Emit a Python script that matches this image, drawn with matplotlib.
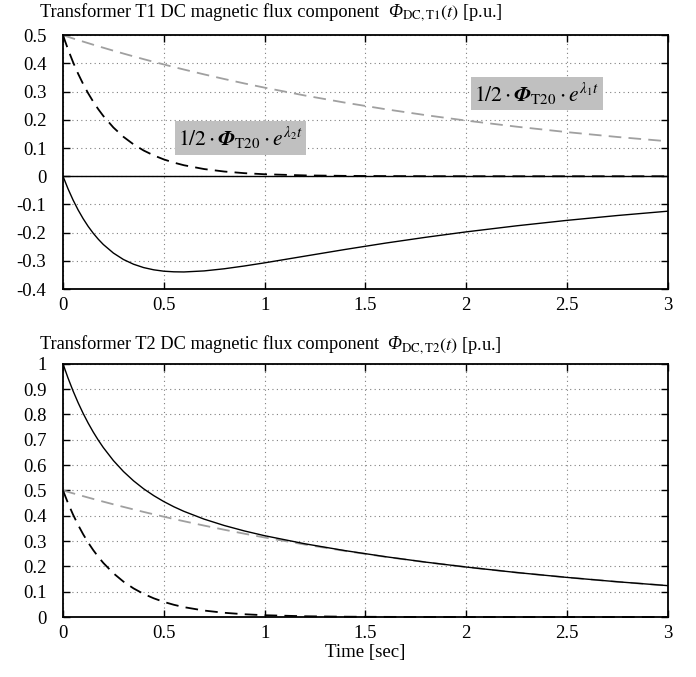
import matplotlib
matplotlib.use('Agg')
import matplotlib.pyplot as plt

plt.rcParams['font.family'] = ['Liberation Serif', 'DejaVu Serif']
plt.rcParams['mathtext.fontset'] = 'stix'

# time points [sec]
t = [0, 0.025, 0.05, 0.075, 0.1, 0.125, 0.15, 0.175, 0.2, 0.25, 0.3, 0.35, 0.4,
     0.45, 0.5, 0.55, 0.6, 0.7, 0.8, 0.9, 1.0,
     1.2, 1.4, 1.6, 1.8, 2.0, 2.25, 2.5, 2.75, 3.0]

# 1/2*Phi_T20*e^(lambda1 t)  (slow component, grey dashed)
slow = [0.5, 0.4942, 0.4885, 0.4829, 0.4773, 0.4718, 0.4663, 0.4609, 0.4556,
        0.4451, 0.4349, 0.4249, 0.4151, 0.4056, 0.3963, 0.3871,
        0.3783, 0.3611, 0.3447, 0.3290, 0.3141, 0.2862, 0.2608, 0.2376,
        0.2165, 0.1973, 0.1757, 0.1564, 0.1392, 0.1239]

# 1/2*Phi_T20*e^(lambda2 t)  (fast component, black dashed)
fast = [0.5, 0.4496, 0.4043, 0.3635, 0.3269, 0.2939, 0.2643, 0.2377, 0.2137,
        0.1728, 0.1397, 0.1130, 0.0913, 0.0739, 0.0597, 0.0483,
        0.0390, 0.0255, 0.0167, 0.0109, 0.0071, 0.0030, 0.0013, 0.0006,
        0.0002, 0.0001, 0.0, 0.0, 0.0, 0.0]

# total DC flux T1 and T2
flux_t1 = [0, -0.0446, -0.0842, -0.1194, -0.1504, -0.1779, -0.2020, -0.2232,
           -0.2419, -0.2723, -0.2952, -0.3119, -0.3238, -0.3317, -0.3366,
           -0.3388, -0.3393, -0.3356, -0.3280, -0.3181, -0.3070, -0.2832,
           -0.2595, -0.2370, -0.2163, -0.1972, -0.1757, -0.1564, -0.1392, -0.1239]
flux_t2 = [1.0, 0.9438, 0.8928, 0.8464, 0.8042, 0.7657, 0.7306, 0.6986, 0.6693,
           0.6179, 0.5746, 0.5379, 0.5064, 0.4795, 0.4560, 0.4354,
           0.4173, 0.3866, 0.3614, 0.3399, 0.3212, 0.2892, 0.2621, 0.2382,
           0.2167, 0.1974, 0.1757, 0.1564, 0.1392, 0.1239]

grey = '#a0a0a0'
dash = (0, (7, 4))

fig = plt.figure(figsize=(6.96, 6.77), dpi=100)
ax1 = fig.add_axes([0.0905, 0.573, 0.869, 0.375])
ax2 = fig.add_axes([0.0905, 0.0886, 0.869, 0.374])

# top plot
ax1.axhline(0, color='black', lw=1.0)
ax1.plot(t, slow, color=grey, lw=1.3, linestyle=dash)
ax1.plot(t, fast, color='black', lw=1.3, linestyle=dash)
ax1.plot(t, flux_t1, color='black', lw=1.0)
ax1.set_ylim(-0.4, 0.5)
ax1.set_yticks([-0.4, -0.3, -0.2, -0.1, 0, 0.1, 0.2, 0.3, 0.4, 0.5])
ax1.set_yticklabels(['-0.4', '-0.3', '-0.2', '-0.1', '0', '0.1', '0.2', '0.3', '0.4', '0.5'])

box = dict(facecolor='#c0c0c0', edgecolor='none', pad=2.5)
ax1.text(0.88, 0.135, r'$1/2\cdot\mathbfit{\Phi}_{\mathrm{T20}}\cdot e^{\lambda_2 t}$',
         fontsize=15.5, ha='center', va='center', bbox=box)
ax1.text(2.35, 0.294, r'$1/2\cdot\mathbfit{\Phi}_{\mathrm{T20}}\cdot e^{\lambda_1 t}$',
         fontsize=15.5, ha='center', va='center', bbox=box)

# bottom plot
ax2.plot(t, slow, color=grey, lw=1.3, linestyle=dash)
ax2.plot(t, fast, color='black', lw=1.3, linestyle=dash, clip_on=False)
ax2.plot(t, flux_t2, color='black', lw=1.0)
ax2.set_ylim(0, 1)
ax2.set_yticks([0, 0.1, 0.2, 0.3, 0.4, 0.5, 0.6, 0.7, 0.8, 0.9, 1])
ax2.set_yticklabels(['0', '0.1', '0.2', '0.3', '0.4', '0.5', '0.6', '0.7', '0.8', '0.9', '1'])
ax2.set_xlabel('Time [sec]', fontsize=13.5, labelpad=1)

for ax in (ax1, ax2):
    ax.set_xlim(0, 3)
    ax.set_xticks([0, 0.5, 1, 1.5, 2, 2.5, 3])
    ax.set_xticklabels(['0', '0.5', '1', '1.5', '2', '2.5', '3'])
    ax.grid(True, color='#808080', linestyle=(0, (1, 3)), lw=0.8)
    ax.tick_params(direction='in', top=True, right=True, labelsize=13.5, length=5, width=1)
    ax.tick_params(axis='x', pad=6)
    ax.tick_params(axis='y', pad=12)
    for s in ax.spines.values():
        s.set_linewidth(1.3)


# titles: plain text, then italic Phi, then subscript part, chained along one baseline
def title(y, name):
    renderer = fig.canvas.get_renderer()
    a = fig.text(0.0575, y, 'Transformer %s DC magnetic flux component' % name,
                 fontsize=13.2, ha='left', va='baseline')
    x = fig.transFigure.inverted().transform(a.get_window_extent(renderer).get_points())[1, 0]
    b = fig.text(x + 0.012, y, '\u03a6', fontsize=13.2, style='italic',
                 ha='left', va='baseline')
    x = fig.transFigure.inverted().transform(b.get_window_extent(renderer).get_points())[1, 0]
    fig.text(x, y, r'${}_{\mathrm{DC,%s}}(t)$ [p.u.]' % name, fontsize=13.2,
             ha='left', va='baseline')


title(0.975, 'T1')
title(0.484, 'T2')

fig.savefig('out.png', dpi=100)
